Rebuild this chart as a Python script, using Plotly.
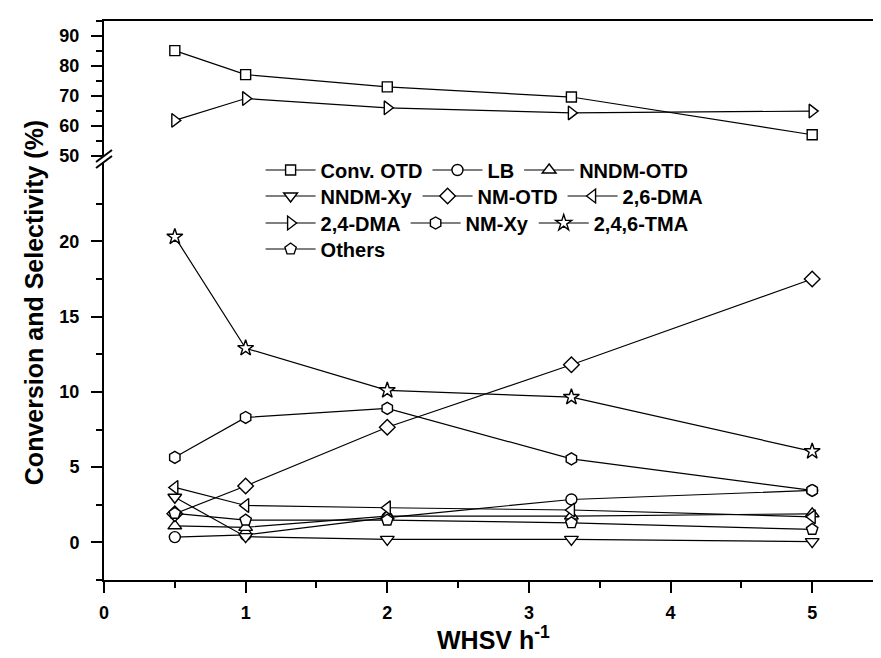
import plotly.graph_objects as go

# ---------------- data ----------------
whsv = [0.5, 1, 2, 3.3, 5]

conv_otd = [85.1, 77.1, 73.0, 69.6, 57.0]
dma_24 = [61.8, 69.1, 66.0, 64.3, 64.9]

lb = [0.35, 0.5, 1.65, 2.85, 3.45]
nndm_otd = [1.1, 1.0, 1.75, 1.75, 1.9]
nndm_xy = [3.0, 0.38, 0.2, 0.2, 0.05]
nm_otd = [1.9, 3.75, 7.65, 11.8, 17.5]
dma_26 = [3.65, 2.45, 2.3, 2.15, 1.7]
nm_xy = [5.65, 8.3, 8.9, 5.55, 3.45]
tma_246 = [20.3, 12.9, 10.1, 9.65, 6.05]
others = [1.93, 1.48, 1.48, 1.3, 0.86]

x_ticks = [0, 1, 2, 3, 4, 5]
low_ticks = [0, 5, 10, 15, 20]
low_minor = [-2.5, 2.5, 7.5, 12.5, 17.5, 22.5]
up_ticks = [50, 60, 70, 80, 90]
up_minor = [55, 65, 75, 85, 95]

# ---------------- geometry (pixels) ----------------
W, H = 881, 658
L, R, T, B = 96, 877, 13, 572
PW, PH = R - L, B - T
low_top_px = 154
up_bot_px = 148

def px_x(p):
    return (p - L) / PW

def px_y(p):
    return (B - p) / PH

FONT = "Liberation Sans, Arial, sans-serif"

fig = go.Figure()

def add(name, y, symbol, size, legend, upper=False):
    fig.add_trace(go.Scatter(
        x=whsv, y=y, name=name, mode="lines+markers",
        line=dict(color="black", width=1.2),
        marker=dict(symbol=symbol, size=size, color="white",
                    line=dict(color="black", width=1.4)),
        legend=legend,
        xaxis="x2" if upper else "x",
        yaxis="y2" if upper else "y",
    ))

add("Conv. OTD", conv_otd, "square", 10, "legend", upper=True)
add("LB", lb, "circle", 11, "legend")
add("NNDM-OTD", nndm_otd, "triangle-up", 12, "legend")
add("NNDM-Xy", nndm_xy, "triangle-down", 12, "legend2")
add("NM-OTD", nm_otd, "diamond", 12, "legend2")
add("2,6-DMA", dma_26, "triangle-left", 12, "legend2")
add("2,4-DMA", dma_24, "triangle-right", 12, "legend3", upper=True)
add("NM-Xy", nm_xy, "hexagon", 12, "legend3")
add("2,4,6-TMA", tma_246, "star", 12, "legend3")
add("Others", others, "pentagon", 12, "legend4")

tickfont = dict(family=FONT, size=18, color="black", weight="bold")
axis_common = dict(showline=True, linecolor="black", linewidth=2,
                   showgrid=False, zeroline=False, tickcolor="black",
                   tickwidth=1.5, tickfont=tickfont)

lower_dom_top = px_y(low_top_px)
upper_dom_bot = px_y(up_bot_px)
low_range = [-2.5, -2.5 + (B - low_top_px) / 15.05]
up_range = [95 - (up_bot_px - T) / 3.0 - 0.1, 95]

legfont = dict(family=FONT, size=20, color="black", weight="bold")
def leg(ypx):
    return dict(orientation="h", x=px_x(253), y=px_y(ypx), xanchor="left",
                yanchor="middle", font=legfont, bgcolor="rgba(0,0,0,0)",
                itemwidth=50, borderwidth=0)

fig.update_layout(
    width=W, height=H,
    margin=dict(l=L, r=W - R, t=T, b=H - B),
    plot_bgcolor="white", paper_bgcolor="white",
    showlegend=True,
    xaxis=dict(range=[0, 5.5], tickvals=x_ticks, ticks="outside", ticklen=11,
               minor=dict(dtick=0.5, tick0=0, ticks="outside", ticklen=6,
                          tickcolor="black", tickwidth=1.5),
               anchor="y", ticklabelstandoff=4, **axis_common),
    xaxis2=dict(range=[0, 5.5], matches="x", anchor="y2", side="top",
                showticklabels=False, ticks="", **axis_common),
    yaxis=dict(domain=[0, lower_dom_top], range=low_range, tickvals=low_ticks,
               ticks="outside", ticklen=11, mirror=True,
               minor=dict(tickvals=low_minor, ticks="outside", ticklen=6,
                          tickcolor="black", tickwidth=1.5),
               anchor="x", ticklabelstandoff=8, **axis_common),
    yaxis2=dict(domain=[upper_dom_bot, 1], range=up_range, tickvals=up_ticks,
                ticks="outside", ticklen=11, mirror=True,
                minor=dict(tickvals=up_minor, ticks="outside", ticklen=6,
                           tickcolor="black", tickwidth=1.5),
                anchor="x2", ticklabelstandoff=8, **axis_common),
    legend=leg(162),
    legend2=leg(188),
    legend3=leg(215),
    legend4=leg(241),
)

# axis titles
titlefont = dict(family=FONT, size=25, color="black", weight="bold")
fig.add_annotation(text="Conversion and Selectivity (%)", xref="paper", yref="paper",
                   x=px_x(26), y=px_y(295), textangle=-90, showarrow=False,
                   xanchor="center", yanchor="middle", font=titlefont)
fig.add_annotation(text="WHSV h<sup>-1</sup>", xref="paper", yref="paper",
                   x=px_x(486), y=px_y(630), showarrow=False,
                   xanchor="center", yanchor="middle", font=titlefont)

# axis break marks
for xp in (L, R):
    for yp in (up_bot_px, low_top_px):
        fig.add_shape(type="line", xref="paper", yref="paper",
                      x0=px_x(xp - 8), y0=px_y(yp + 6),
                      x1=px_x(xp + 8), y1=px_y(yp - 6),
                      line=dict(color="black", width=2))

fig.write_html("out.html")
